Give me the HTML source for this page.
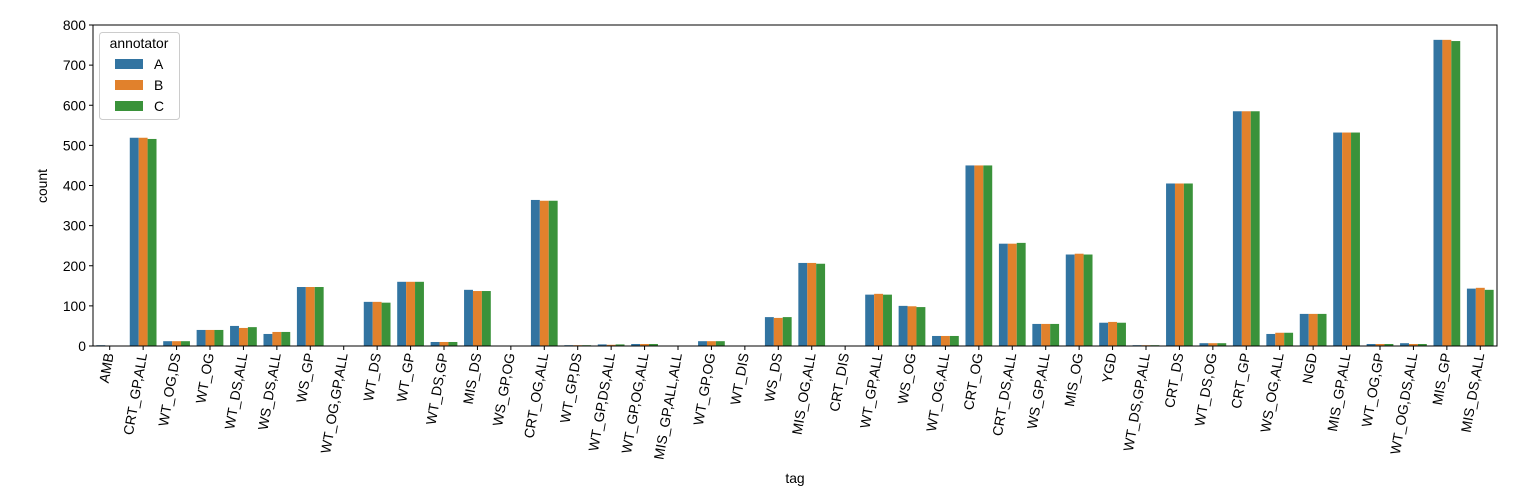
<!DOCTYPE html>
<html><head><meta charset="utf-8"><style>
body{margin:0;background:#fff}
svg text{font-family:"Liberation Sans","DejaVu Sans",sans-serif;font-size:13.9px;fill:#000}
</style></head><body>
<svg id="chart" width="1536" height="498">
<g id="plot"></g>
</svg>
<script>
const categories=["AMB","CRT_GP,ALL","WT_OG,DS","WT_OG","WT_DS,ALL","WS_DS,ALL","WS_GP","WT_OG,GP,ALL","WT_DS","WT_GP","WT_DS,GP","MIS_DS","WS_GP,OG","CRT_OG,ALL","WT_GP,DS","WT_GP,DS,ALL","WT_GP,OG,ALL","MIS_GP,ALL,ALL","WT_GP,OG","WT_DIS","WS_DS","MIS_OG,ALL","CRT_DIS","WT_GP,ALL","WS_OG","WT_OG,ALL","CRT_OG","CRT_DS,ALL","WS_GP,ALL","MIS_OG","YGD","WT_DS,GP,ALL","CRT_DS","WT_DS,OG","CRT_GP","WS_OG,ALL","NGD","MIS_GP,ALL","WT_OG,GP","WT_OG,DS,ALL","MIS_GP","MIS_DS,ALL"];
const seriesA=[2,519,12,40,50,30,147,0,110,160,10,140,0,364,2,4,5,0,12,0,72,207,0,128,100,25,450,255,55,228,58,2,405,7,585,30,80,532,5,7,763,143];
const seriesB=[1,519,12,40,45,35,147,0,110,160,10,137,0,362,2,3,5,0,12,0,70,207,0,130,99,25,450,255,55,230,60,2,405,7,585,33,80,532,5,5,763,145];
const seriesC=[1,516,12,40,47,35,147,0,108,160,10,137,0,362,2,4,5,0,12,1,72,205,0,128,97,25,450,257,55,228,58,2,405,7,585,33,80,532,5,5,760,140];
const seriesNames=["A","B","C"];
const colors=["#3274a1","#e1812c","#3a923a"];
const yTicks=[0,100,200,300,400,500,600,700,800];

const NS="http://www.w3.org/2000/svg";
const g=document.getElementById('plot');
const X0=93,X1=1497,Y0=346,Y1=25;
const n=categories.length;
const step=(X1-X0)/n;
const xc=i=>X0+step*(i+0.5);
const y=v=>Y0-(v/800)*(Y0-Y1);
function mk(t,a,txt){const e=document.createElementNS(NS,t);for(const k in a)e.setAttribute(k,a[k]);if(txt!==undefined)e.textContent=txt;g.appendChild(e);return e;}

const all=[seriesA,seriesB,seriesC];
const bw=step*0.8/3;
all.forEach((s,si)=>{s.forEach((v,i)=>{
  const x=xc(i)-step*0.4+si*bw;
  const r=mk('rect',{x:x,y:y(v),width:bw,height:Y0-y(v),fill:colors[si]});
  
  
});});

const fr=mk('rect',{x:X0,y:Y1,width:X1-X0,height:Y0-Y1,fill:'none',stroke:'#000','stroke-width':1});



yTicks.forEach(t=>{
  const yy=y(t);
  mk('line',{x1:X0-4,x2:X0,y1:yy,y2:yy,stroke:'#000'});
  const tx=mk('text',{x:X0-7,y:yy+5,'text-anchor':'end'},t);
  
  
});
categories.forEach((c,i)=>{
  const xx=xc(i);
  mk('line',{x1:xx,x2:xx,y1:Y0,y2:Y0+4,stroke:'#000'});
  const tx=mk('text',{x:0,y:0,'text-anchor':'end',transform:`translate(${xx+4},${Y0+8}) rotate(-80)`},c);
  
  
});
const yl=mk('text',{x:0,y:0,'text-anchor':'middle',transform:'translate(47,186) rotate(-90)'},'count');


const xl=mk('text',{x:795,y:483,'text-anchor':'middle'},'tag');



const lb=mk('rect',{x:99.5,y:32.5,width:80,height:87,rx:3,fill:'#fff','fill-opacity':0.8,stroke:'#ccc'});


const lt=mk('text',{x:139,y:48,'text-anchor':'middle'},'annotator');


seriesNames.forEach((s,si)=>{
  const yy=64+si*21;
  const p=mk('rect',{x:115,y:yy-5,width:28,height:10,fill:colors[si]});
  
  
  const t=mk('text',{x:154,y:yy+5},s);
  
  
});
</script>
</body></html>
